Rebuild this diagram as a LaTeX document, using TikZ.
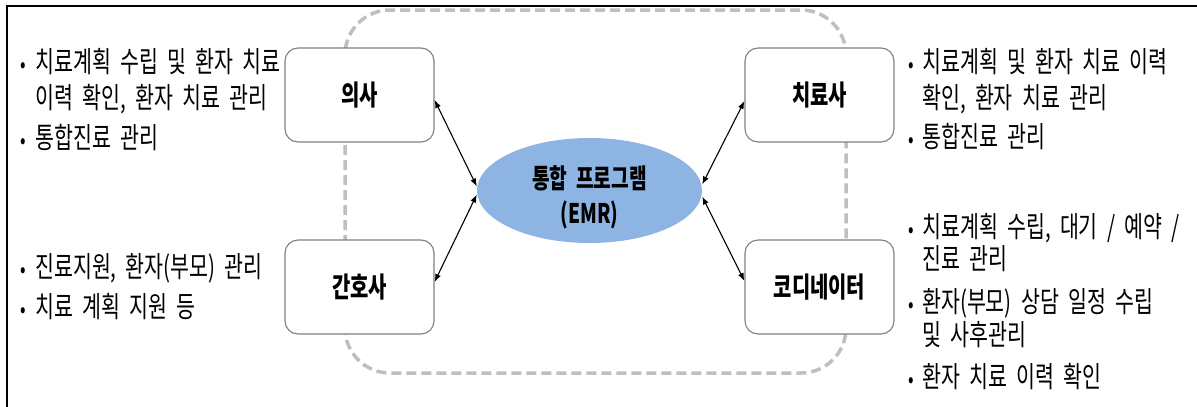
\documentclass[tikz,border=0pt]{standalone}
\usepackage{fontspec}
\setmainfont{Noto Sans CJK KR}[FakeStretch=0.71,WordSpace=2]
\usetikzlibrary{arrows.meta,calc,shapes.geometric}
\definecolor{emrblue}{RGB}{141,180,226}
\definecolor{framegray}{RGB}{191,191,191}
\definecolor{boxgray}{RGB}{128,128,128}

\begin{document}
\begin{tikzpicture}[x=1pt,y=-1pt,
  role/.style={draw=boxgray, line width=1.1pt, fill=white, rounded corners=13pt,
    minimum width=149pt, minimum height=94pt, inner sep=0pt,
    font=\fontsize{28}{30}\selectfont\bfseries},
  item/.style={anchor=base west, inner sep=0pt, font=\fontsize{29}{30}\selectfont},
  dot/.style={anchor=base, inner sep=0pt, font=\fontsize{23}{24}\selectfont},
  link/.style={line width=1.1pt, {Latex[length=8pt,width=6pt]}-{Latex[length=8pt,width=6pt]}}
]
\useasboundingbox (0,0) rectangle (1197,407);

% outer frame (left and top edges)
\draw[line width=2pt] (7,407) -- (7,6) -- (1197,6);

% dashed loop joining the four roles
\draw[framegray, line width=3.5pt, dash pattern=on 10pt off 5pt, rounded corners=45pt]
  (345,10) rectangle (846,373);

% roles
\node[role] (doc)   at (359.5,95)  {의사};
\node[role] (nurse) at (359.5,287) {간호사};
\node[role] (ther)  at (819.5,95)  {치료사};
\node[role] (coord) at (819.5,287) {코디네이터};

% central program
\node[ellipse, fill=emrblue, minimum width=225pt, minimum height=105pt, inner sep=0pt] (emr) at (589.5,190.5) {};
\node[align=center, inner sep=0pt, font=\fontsize{27}{35}\selectfont\bfseries] (emrtext) at (589.5,197) {통합 프로그램\\(EMR)};

% links
\draw[link] ($(doc.east)+(0,5)$)    -- ($(emr.west)+(0,-4)$);
\draw[link] ($(nurse.east)+(0,-5)$) -- ($(emr.west)+(0,4)$);
\draw[link] ($(emr.east)+(0,-6)$)   -- ($(ther.west)+(0,6)$);
\draw[link] ($(emr.east)+(0,6)$)    -- ($(coord.west)+(0,-6)$);

% duties of the doctor
\node[dot]  (bl1) at (23,72) {•};
\node[item] (l1) at (35,72)    {치료계획 수립 및 환자 치료};
\node[item] (l2) at (35,108.5) {이력 확인, 환자 치료 관리};
\node[dot]  (bl3) at (23,148.5) {•};
\node[item] (l3) at (35,148.5) {통합진료 관리};

% duties of the nurse
\node[dot]  (bl4) at (23,277) {•};
\node[item] (l4) at (35,277) {진료지원, 환자(부모) 관리};
\node[dot]  (bl5) at (23,317) {•};
\node[item] (l5) at (35,317) {치료 계획 지원 등};

% duties of the therapist
\node[dot]  (br1) at (911,72) {•};
\node[item] (r1) at (922,72)  {치료계획 및 환자 치료 이력};
\node[item] (r2) at (922,108) {확인, 환자 치료 관리};
\node[dot]  (br3) at (911,147) {•};
\node[item] (r3) at (922,147) {통합진료 관리};

% duties of the coordinator
\node[dot]  (br4) at (911,237) {•};
\node[item] (r4) at (922,237) {치료계획 수립, 대기 / 예약 /};
\node[item] (r5) at (922,269) {진료 관리};
\node[dot]  (br6) at (911,312) {•};
\node[item] (r6) at (922,312) {환자(부모) 상담 일정 수립};
\node[item] (r7) at (922,345) {및 사후관리};
\node[dot]  (br8) at (911,387) {•};
\node[item] (r8) at (922,387) {환자 치료 이력 확인};
\end{tikzpicture}
\end{document}
